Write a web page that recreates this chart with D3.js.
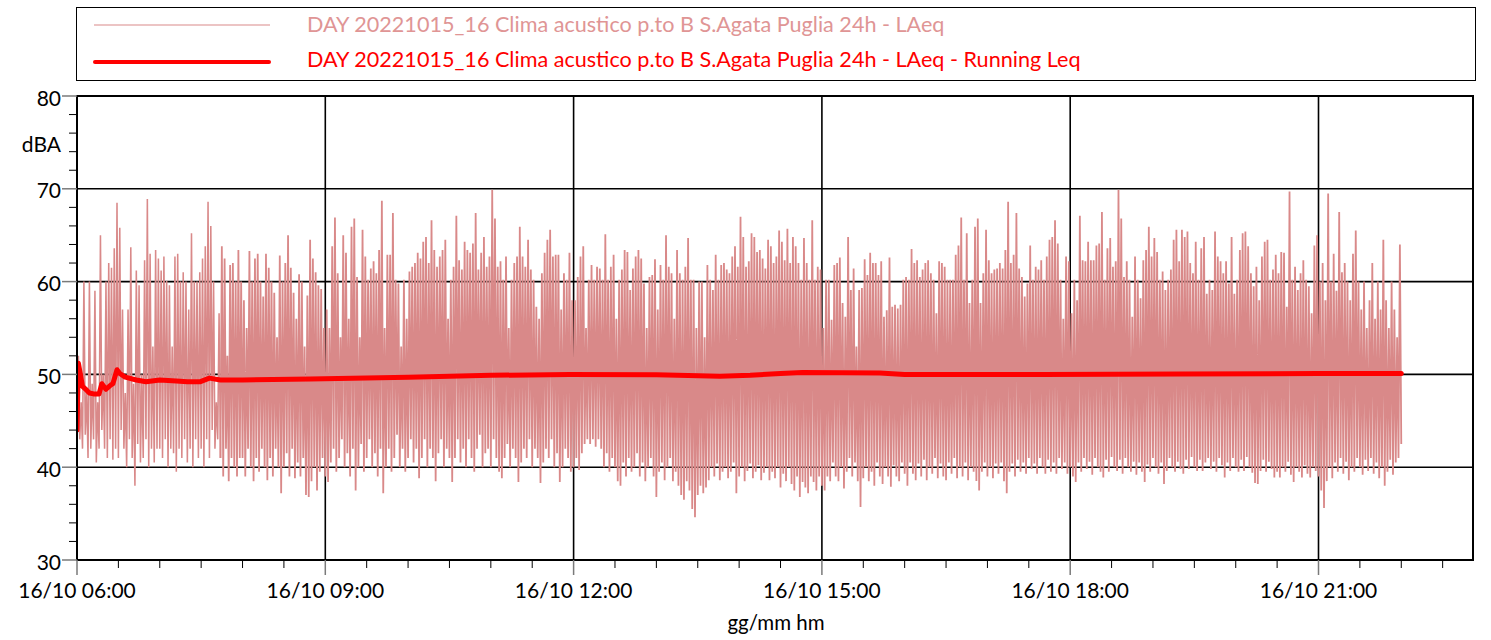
<!DOCTYPE html>
<html>
<head>
<meta charset="utf-8">
<script src="https://cdn.jsdelivr.net/npm/d3@7"></script>
<style>
  html, body { margin: 0; padding: 0; background: #ffffff; }
  svg { display: block; font-family: Lato, "Noto Sans", sans-serif; }
</style>
</head>
<body>
<svg id="chart" width="1491" height="640"></svg>
<script>
// ---- Labels ---------------------------------------------------------------
const seriesName = "DAY 20221015_16 Clima acustico p.to B S.Agata Puglia 24h - LAeq";
const runningName = "DAY 20221015_16 Clima acustico p.to B S.Agata Puglia 24h - LAeq - Running Leq";
const yUnit = "dBA";
const xTitle = "gg/mm hm";

// ---- Axis extents / ticks ------------------------------------------------
const startTime = new Date(2022, 9, 16, 6, 0);
const endTime = new Date(2022, 9, 16, 22, 52);
const yMajorTicks = [30, 40, 50, 60, 70, 80];

// ---- LAeq, two-minute blocks from 06:00 (one row per hour) -----------------
// lowest reading of each block (first minute)
const laeqLow = [
  44, 43, 42, 43.5, 41, 42, 43, 40.5, 42, 44, 42, 41, 43, 40.8, 42, 41, 44, 42, 40, 43, 41, 38, 42.5, 40.5, 41, 43, 40, 42, 40.5, 42,
  42, 41, 43, 40, 42, 41.5, 39.5, 42, 41, 43, 40.5, 42, 40, 43, 41, 42, 40, 43, 41, 44, 42, 43, 41, 39, 42, 38.5, 41, 40, 39, 41,
  41, 39, 42, 40, 38.5, 41, 39.5, 42, 40, 38.6, 41, 39, 42, 40, 37.2, 40, 41.5, 39, 42, 38.8, 40.5, 39, 41, 37, 36.8, 38.5, 40, 37.5, 39.5, 41,
  39, 38.4, 40.5, 42, 39.5, 41, 43, 40, 41.5, 39, 42, 37.5, 40, 42.5, 39.5, 41, 43, 40, 41.5, 39, 42, 37.2, 40, 42, 39.5, 41, 43.5, 40, 42, 39.5,
  41, 43, 40.5, 42, 38.8, 41, 43, 40, 42, 41, 38.5, 41.5, 43, 40, 42, 41, 38.4, 41, 43, 40.5, 42, 40, 43, 41, 39.5, 42, 43.5, 40, 41.5, 42,
  40, 43, 41, 39.5, 38.8, 41, 42.5, 40, 42, 41, 38.4, 40.5, 42, 41, 43, 40, 42, 41, 38.3, 40.5, 42, 41, 43, 40, 41.5, 38.4, 40, 42, 41, 39.5,
  40, 41, 39.7, 41.5, 42.5, 43, 42.5, 43, 42.2, 43, 42, 40, 41.5, 39.5, 41, 40, 38.5, 38, 40.5, 39, 41, 39.5, 40, 41.5, 39, 40.5, 38.5, 40, 41, 39,
  36.8, 39.5, 40.5, 38.6, 40, 41, 38.5, 39.5, 38, 37, 36.5, 38.5, 37.5, 35.5, 34.6, 37, 38, 37.2, 37.8, 38.6, 40, 39, 40.4, 38.6, 39.5, 40, 38.8, 39.5, 40.5, 37.2,
  39, 40, 38.5, 39.6, 40.4, 38.8, 39.5, 40.2, 38.6, 39.4, 40, 38.6, 39.5, 38.8, 40, 37.8, 39.3, 38.5, 40, 38.2, 37.5, 39, 36.8, 38.4, 37.8, 37.2, 39, 38.4, 37.5, 39,
  38, 37.5, 39, 38.5, 40.5, 39, 38.5, 40, 37.7, 39.5, 41, 39, 40.5, 38.5, 35.7, 38.8, 40, 38.5, 39.5, 38, 40.5, 39, 38.2, 40, 39, 37.9, 40.2, 39, 38.5, 40.5,
  39.3, 38, 40.5, 39.3, 38.6, 40.4, 39, 40.8, 38.6, 40, 39.3, 41, 38.8, 40.4, 39, 38.6, 40.5, 39.3, 41, 38.8, 40, 39, 40.5, 38.6, 40, 39.5, 38.5, 37.5, 39.5, 40.5,
  39, 40, 38.8, 40.4, 39.3, 40.5, 38.5, 37.2, 39.5, 40.4, 39, 40.8, 39.5, 40.5, 39.3, 41, 39.8, 40.4, 39.3, 41, 40, 39.3, 40.8, 39.5, 40.5, 39.3, 41, 39.8, 40.5, 39.3,
  40, 39, 38.4, 40.5, 39.5, 41, 39.8, 40.6, 39.2, 41, 40, 39.5, 38.9, 40.8, 39.5, 41.1, 40, 39.6, 40.8, 39.3, 41, 40, 39.5, 40.6, 39.2, 40.5, 39.5, 38.4, 40.3, 39.5,
  41, 40, 39.3, 40.5, 38.2, 39.6, 41, 40, 39.5, 40.6, 39.8, 39.3, 40.8, 39.8, 41.1, 40, 39.6, 40.8, 39.6, 40.5, 41, 39.8, 40.6, 39.5, 41, 40.2, 38.9, 40.5, 39.6, 41,
  40, 39.5, 40.8, 39.6, 41.1, 40, 39.4, 38.3, 38.2, 39.6, 40.8, 39.5, 40.6, 39.8, 38.9, 39.5, 38.9, 40, 39.5, 40.6, 39.2, 38.4, 40, 39.5, 38.9, 40.2, 39.3, 38.9, 40, 39.6,
  39, 37.5, 35.6, 38.5, 40, 38.8, 40.5, 39.5, 41, 39.3, 40.6, 38.6, 40, 39.5, 41, 40, 39.2, 40.8, 39.6, 41, 39.3, 40.5, 38.8, 40, 38, 39.5, 40.8, 39.2, 40.5, 41
];
// highest reading of each block (second minute)
const laeqHigh = [
  52, 47, 60, 48, 60, 49, 59, 47, 65, 50, 60, 62, 61.5, 63.6, 68.5, 65.8, 57, 48, 57, 63.7, 49, 61.2, 59.6, 50, 62.3, 68.9, 63, 53, 63.4, 62.5,
  61.2, 62.7, 60.1, 59.6, 53, 62.7, 63, 60, 61, 60, 57, 65.2, 60, 60, 61, 62.5, 63.8, 68.6, 66, 60, 47, 56.6, 63.8, 62.5, 52, 61.8, 62, 60, 63.4, 60,
  58, 55, 63.3, 60, 62.5, 63, 60, 58.4, 63, 61.5, 60, 58.8, 54, 62.8, 60, 62, 65, 61.5, 58.8, 56, 60.8, 60, 53, 58.5, 64.5, 62.5, 61, 59.6, 59.2, 55,
  57, 55, 63.8, 66.9, 60.9, 54, 65.0, 63.1, 56, 65.9, 66.8, 60.5, 54, 65.6, 62.7, 60.2, 61.4, 62.2, 60.9, 63.4, 68.7, 55, 62.9, 62.9, 67.4, 60.2, 59.8, 53, 60.2, 56,
  61.1, 61.6, 62.0, 63.1, 62.5, 64.3, 64.8, 62.0, 66.6, 63.4, 61.6, 62.7, 63.4, 64.5, 56, 60.2, 61.6, 67.1, 62.3, 61.3, 64.3, 63.4, 63.1, 64.1, 67.4, 61.3, 63.1, 64.8, 61.6, 62.7,
  69.9, 66.8, 61.6, 62.2, 60.2, 62.7, 55, 60.2, 62.0, 62.7, 65.9, 62.7, 61.6, 64.5, 61.3, 60.2, 57.3, 56, 60.9, 63.1, 64.5, 65.6, 62.7, 62.9, 62.9, 57, 60.9, 60.2, 63.1, 58,
  58, 60.5, 62.7, 63.8, 55, 60.2, 61.8, 60.2, 61.6, 61.4, 60.2, 65.1, 60.2, 61.6, 62.9, 56, 60.2, 61.3, 63.4, 63.2, 59.1, 61.4, 62.7, 63.4, 62.5, 59.8, 55, 60.5, 60.7, 62.4,
  57, 61.8, 60.2, 65.0, 61.6, 60.9, 56, 63.4, 60.9, 60.2, 61.6, 64.7, 60.2, 60.2, 55, 60.0, 60.0, 54, 61.8, 60.2, 59.1, 62.9, 60.2, 61.8, 62.0, 61.3, 60.9, 62.7, 63.8, 61.6,
  67.0, 64.8, 61.6, 62.2, 65.2, 64.8, 63.2, 63.4, 62.5, 61.4, 64.5, 63.8, 62.0, 62.7, 65.5, 64.3, 62.3, 65.7, 62.0, 64.8, 63.8, 62.0, 60.2, 64.7, 62.0, 60.2, 66.6, 60.2, 61.6, 61.3,
  55, 60.2, 60.2, 55.9, 61.8, 62.0, 62.6, 57.7, 56.2, 64.8, 59.1, 61.4, 53, 59.1, 59.3, 62.4, 60.7, 63.1, 62.0, 62.0, 60.7, 62.2, 56.2, 56.9, 62.6, 57.3, 57.5, 57.1, 57.5, 60.2,
  60.5, 60.2, 63.5, 62.0, 62.3, 60.5, 61.3, 62.0, 62.3, 60.9, 60.2, 56.6, 62.2, 62.0, 61.6, 60.2, 60.2, 60.2, 62.9, 63.9, 66.9, 60.2, 65.2, 57.7, 60.2, 65.9, 66.8, 57.7, 60.9, 65.6,
  62.3, 60.9, 61.3, 61.4, 62.0, 61.4, 63.4, 68.6, 62.0, 62.9, 67.4, 61.4, 60.5, 58.4, 59.8, 63.9, 60.2, 61.6, 61.3, 62.3, 60.2, 62.7, 64.5, 64.8, 66.6, 64.1, 60.2, 56, 62.7, 62.2,
  56.6, 60.2, 58, 67.1, 62.3, 62.2, 64.3, 62.3, 62.3, 63.9, 64.1, 67.5, 60.2, 63.6, 64.7, 61.6, 62.2, 69.9, 66.8, 60.5, 62.2, 60.2, 56.2, 62.7, 60.2, 58.2, 62.3, 63.4, 65.9, 62.7,
  64.7, 63.2, 60.2, 61.1, 59.1, 60.2, 61.3, 64.5, 65.6, 62.2, 65.6, 64.8, 65.4, 62.0, 60.9, 64.3, 60.2, 63.6, 64.8, 58.7, 60.2, 59.1, 65.4, 62.7, 62.2, 60.9, 62.2, 59.8, 64.8, 58.7,
  60.2, 63.4, 65.2, 65.4, 63.8, 60.9, 59.5, 61.6, 58.0, 62.7, 64.3, 64.5, 60.2, 61.3, 62.9, 60.9, 63.2, 63.1, 57.3, 69.7, 60.2, 61.6, 59.1, 60.9, 62.3, 60.2, 59.5, 56.6, 63.9, 65.0,
  60, 62, 58, 69.5, 60, 63, 59, 67.5, 61, 62, 60, 58, 63, 65.5, 60, 57, 60, 55, 58, 62, 56, 60, 57, 64.5, 58, 55, 60, 57, 54, 64
];
const laeqLast = 42.5;   // reading at 22:00
const quietBlocks = 52;  // isolated morning events before 07:44 are drawn with a finer pen

// ---- Running Leq (minutes after 06:00, dB) --------------------------------
const runningMinutes = [0, 1, 2, 4, 7, 9, 12, 16, 18, 21, 24, 26, 29, 31, 35, 43, 50, 60, 72, 80, 89, 96, 104, 120, 169, 240, 300, 357, 420, 466, 488, 510, 526, 582, 600, 700, 800, 900, 960];
const runningLeq     = [44.0, 51.2, 50.4, 48.7, 48.3, 48.0, 47.9, 47.9, 49.0, 48.4, 48.8, 49.0, 50.5, 50.1, 49.7, 49.4, 49.2, 49.4, 49.3, 49.2, 49.2, 49.6, 49.4, 49.4, 49.5, 49.7, 49.9, 50.0, 49.95, 49.8, 49.9, 50.1, 50.2, 50.15, 50.0, 50.0, 50.05, 50.1, 50.1];

// ---- Layout ---------------------------------------------------------------
const plot = { left: 77, top: 96, right: 1473, bottom: 560 };
const pink = "#d98989";
const red = "#ff0000";

const svg = d3.select("#chart");

const x = d3.scaleTime().domain([startTime, endTime]).range([plot.left, plot.right]);
const y = d3.scaleLinear().domain([30, 80]).range([plot.bottom, plot.top]);

const minute = m => new Date(startTime.getTime() + m * 60000);

// Build the LAeq trace: low then high within each two-minute block
const laeqPoints = [];
laeqLow.forEach((lo, i) => {
  laeqPoints.push({ t: minute(2 * i), v: lo });
  laeqPoints.push({ t: minute(2 * i + 1), v: laeqHigh[i] });
});
laeqPoints.push({ t: minute(2 * laeqLow.length), v: laeqLast });

const runningPoints = runningMinutes.map((m, i) => ({ t: minute(m), v: runningLeq[i] }));

// ---- Grid -----------------------------------------------------------------
const majorTimes = d3.timeHour.every(3).range(startTime, endTime);
const minorTimes = d3.timeMinute.every(30).range(startTime, endTime)
  .filter(t => !(t.getMinutes() === 0 && t.getHours() % 3 === 0));
const minorY = d3.range(30, 81, 2).filter(v => v % 10 !== 0);

const grid = svg.append("g");
grid.selectAll("line.h").data(yMajorTicks.filter(v => v > 30 && v < 80)).join("line")
  .attr("x1", plot.left).attr("x2", plot.right)
  .attr("y1", d => y(d)).attr("y2", d => y(d))
  .attr("stroke", "#000").attr("stroke-width", 1.6);
grid.selectAll("line.v").data(majorTimes.filter(t => t > startTime)).join("line")
  .attr("x1", d => x(d)).attr("x2", d => x(d))
  .attr("y1", plot.top).attr("y2", plot.bottom)
  .attr("stroke", "#000").attr("stroke-width", 1.6);

// ---- Series ---------------------------------------------------------------
svg.append("clipPath").attr("id", "plotClip").append("rect")
  .attr("x", plot.left).attr("y", plot.top)
  .attr("width", plot.right - plot.left).attr("height", plot.bottom - plot.top);

const line = d3.line().x(d => x(d.t)).y(d => y(d.v));

const laeqG = svg.append("g").attr("clip-path", "url(#plotClip)");
const splitAt = 2 * quietBlocks;
laeqG.append("path").datum(laeqPoints.slice(0, splitAt + 1))
  .attr("fill", "none").attr("stroke", pink).attr("stroke-width", 1.55)
  .attr("stroke-linejoin", "bevel").attr("d", line);
laeqG.append("path").datum(laeqPoints.slice(splitAt))
  .attr("fill", "none").attr("stroke", pink).attr("stroke-width", 1.8)
  .attr("stroke-linejoin", "bevel").attr("d", line);

svg.append("path").datum(runningPoints)
  .attr("clip-path", "url(#plotClip)")
  .attr("fill", "none").attr("stroke", red).attr("stroke-width", 5)
  .attr("stroke-linejoin", "round").attr("stroke-linecap", "round").attr("d", line);

// ---- Frame ----------------------------------------------------------------
svg.append("rect")
  .attr("x", plot.left).attr("y", plot.top)
  .attr("width", plot.right - plot.left).attr("height", plot.bottom - plot.top)
  .attr("fill", "none").attr("stroke", "#000").attr("stroke-width", 2);

// ---- Y axis ---------------------------------------------------------------
const yAxis = svg.append("g");
yAxis.selectAll("line.maj").data(yMajorTicks).join("line")
  .attr("x1", plot.left - 15).attr("x2", plot.left)
  .attr("y1", d => y(d)).attr("y2", d => y(d))
  .attr("stroke", "#7a7a7a").attr("stroke-width", 1.5);
yAxis.selectAll("line.min").data(minorY).join("line")
  .attr("x1", plot.left - 8).attr("x2", plot.left)
  .attr("y1", d => y(d)).attr("y2", d => y(d))
  .attr("stroke", "#000").attr("stroke-width", 1);
yAxis.selectAll("text").data(yMajorTicks).join("text")
  .attr("x", 61).attr("y", d => y(d) + 9.5)
  .attr("text-anchor", "end").attr("font-size", 21).attr("fill", "#000")
  .text(d => d);
svg.append("text").attr("x", 61).attr("y", 152)
  .attr("text-anchor", "end").attr("font-size", 21).attr("fill", "#000")
  .text(yUnit);

// ---- X axis ---------------------------------------------------------------
const fmt = d3.timeFormat("%d/%m %H:%M");
const xAxis = svg.append("g");
xAxis.selectAll("line.maj").data(majorTimes).join("line")
  .attr("x1", d => x(d)).attr("x2", d => x(d))
  .attr("y1", plot.bottom).attr("y2", plot.bottom + 15)
  .attr("stroke", "#7a7a7a").attr("stroke-width", 1.5);
xAxis.selectAll("line.min").data(minorTimes).join("line")
  .attr("x1", d => x(d)).attr("x2", d => x(d))
  .attr("y1", plot.bottom).attr("y2", plot.bottom + 8)
  .attr("stroke", "#000").attr("stroke-width", 1);
xAxis.selectAll("text").data(majorTimes).join("text")
  .attr("x", d => x(d)).attr("y", 598)
  .attr("text-anchor", "middle").attr("font-size", 21).attr("fill", "#000")
  .text(d => fmt(d));
svg.append("text").attr("x", 776).attr("y", 630)
  .attr("text-anchor", "middle").attr("font-size", 20.5).attr("fill", "#000")
  .text(xTitle);

// ---- Legend ---------------------------------------------------------------
const legend = svg.append("g");
legend.append("rect").attr("x", 76.5).attr("y", 7.5).attr("width", 1399).attr("height", 73)
  .attr("fill", "#fff").attr("stroke", "#000").attr("stroke-width", 1);
legend.append("line").attr("x1", 94).attr("x2", 270).attr("y1", 25).attr("y2", 25)
  .attr("stroke", pink).attr("stroke-width", 1);
legend.append("line").attr("x1", 95).attr("x2", 269).attr("y1", 62).attr("y2", 62)
  .attr("stroke", red).attr("stroke-width", 4).attr("stroke-linecap", "round");
legend.append("text").attr("x", 307).attr("y", 32)
  .attr("font-size", 21.6).attr("fill", "#e09595").text(seriesName);
legend.append("text").attr("x", 307).attr("y", 67)
  .attr("font-size", 21.6).attr("fill", red).text(runningName);
</script>
</body>
</html>
